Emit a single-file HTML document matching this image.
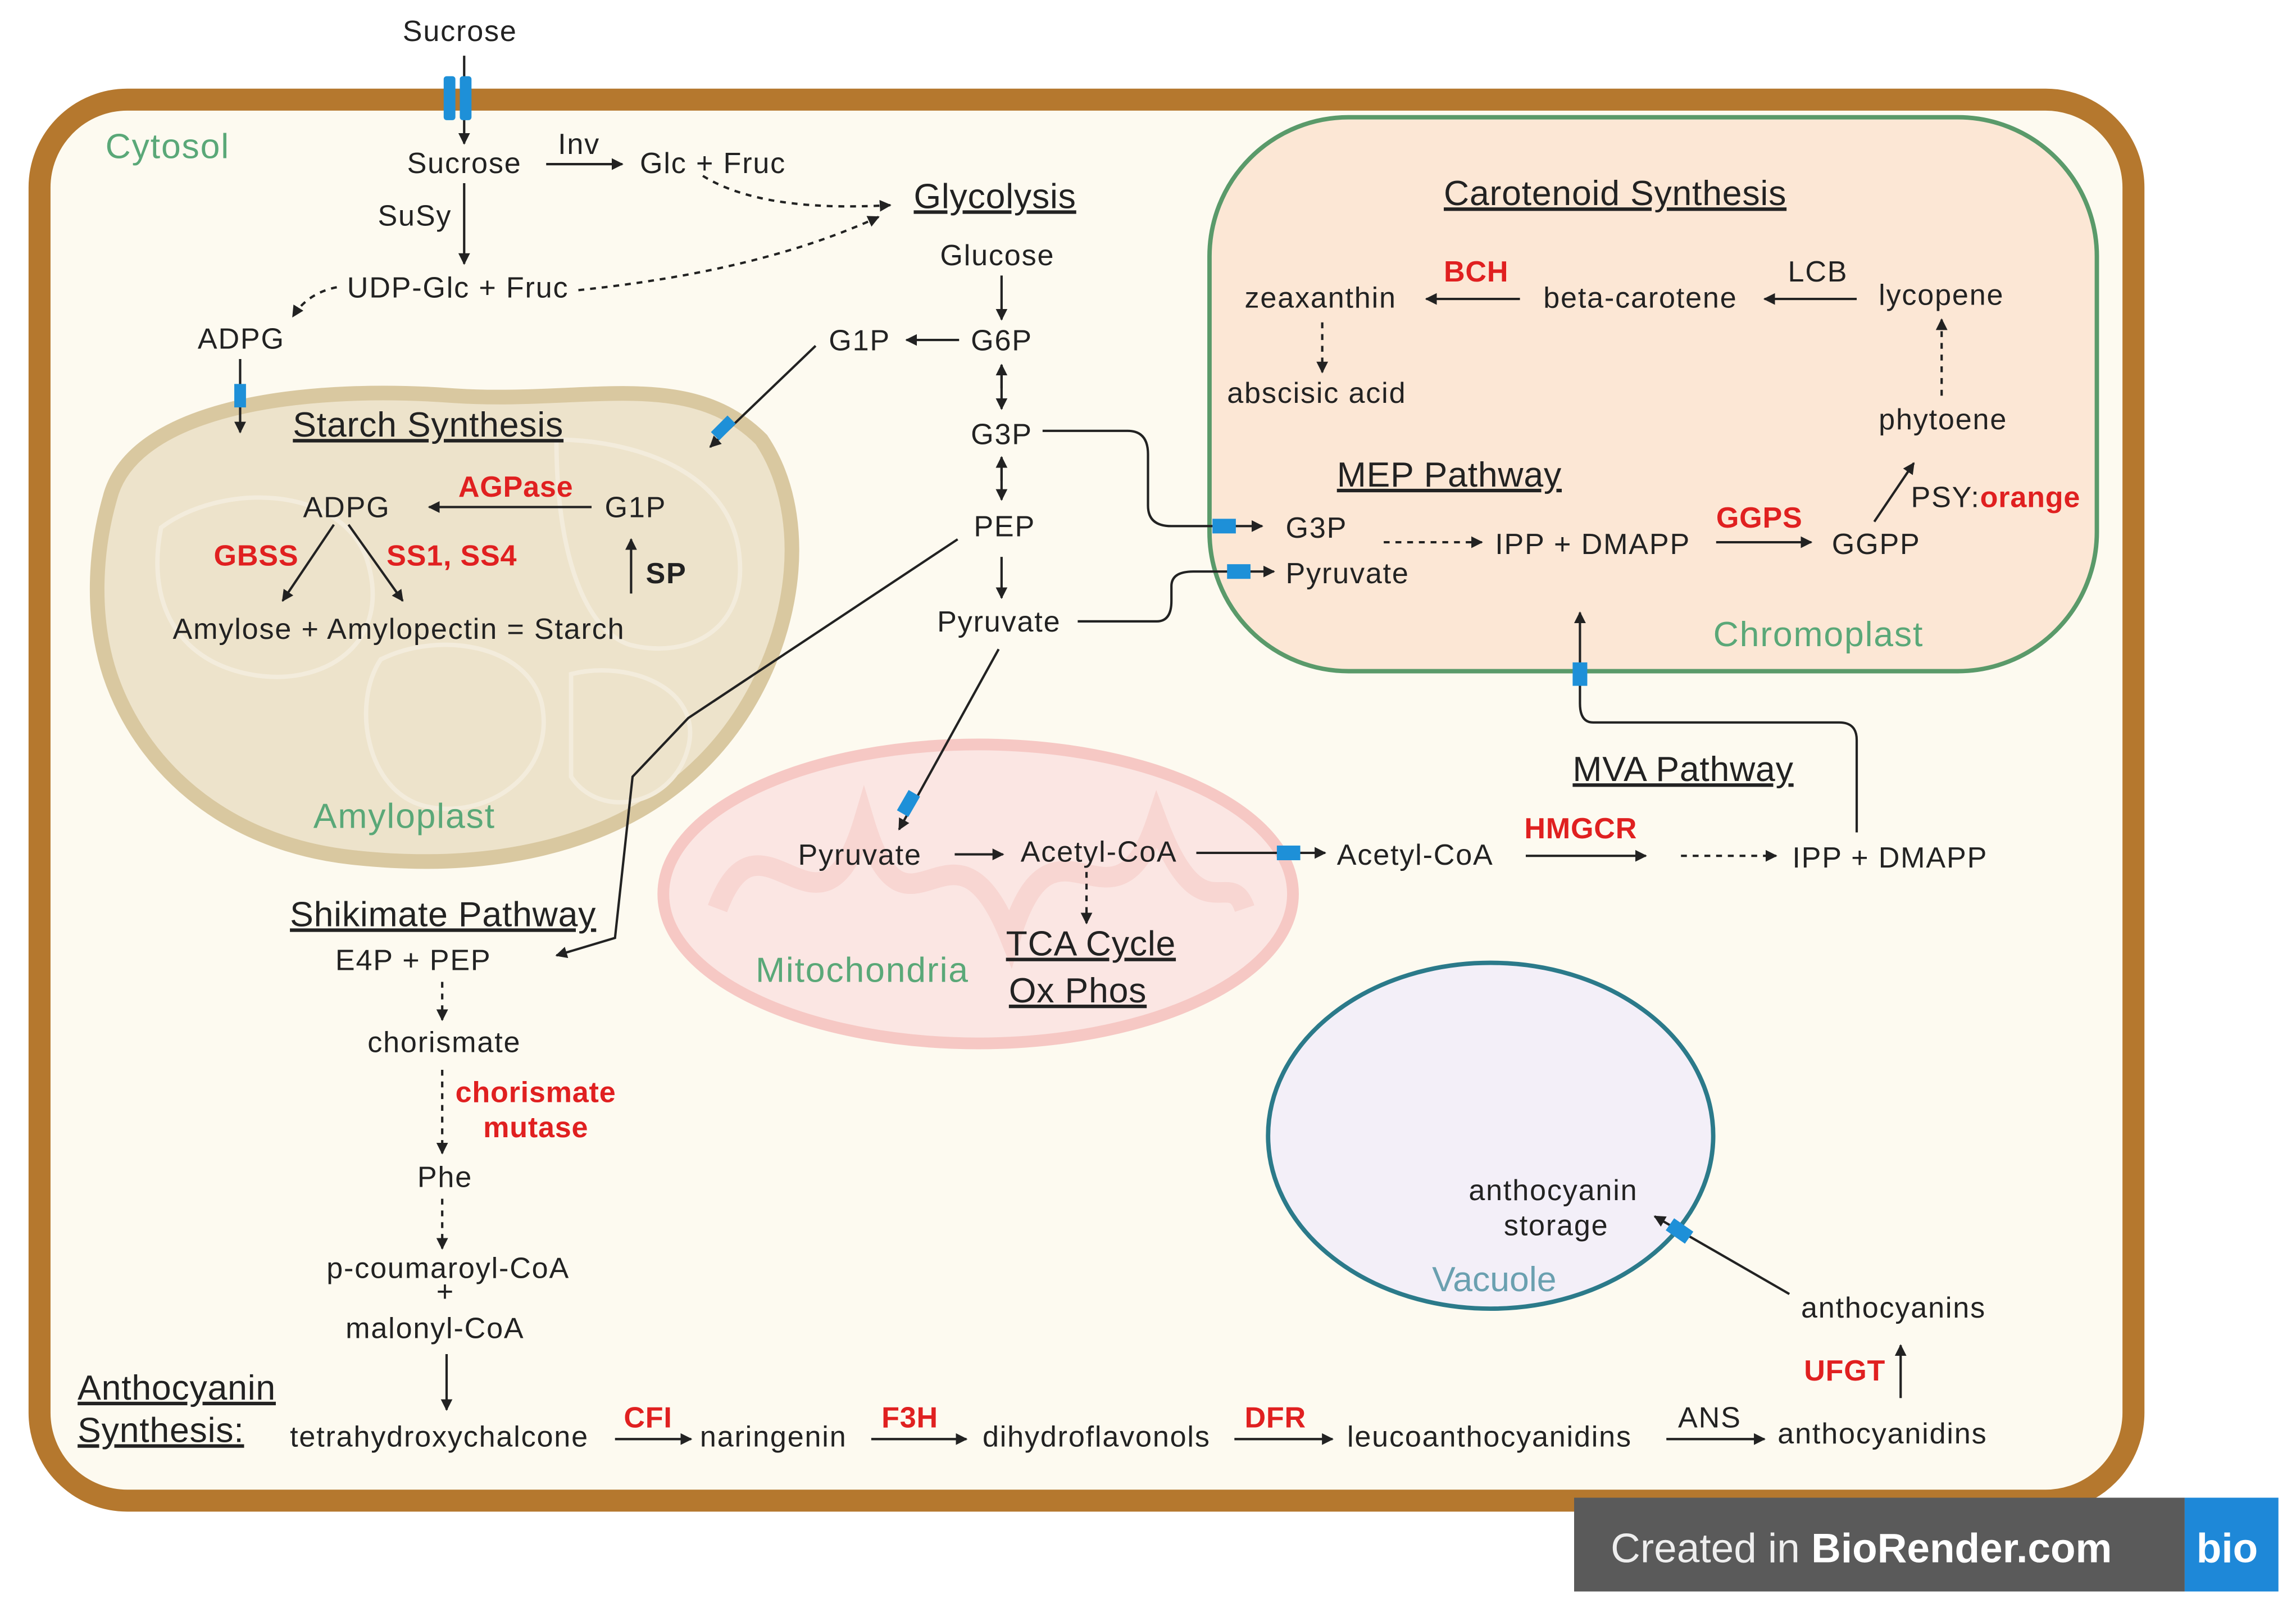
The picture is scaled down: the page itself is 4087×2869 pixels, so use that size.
<!DOCTYPE html>
<html><head><meta charset="utf-8"><style>
html,body{margin:0;padding:0;background:#fff;}
svg{display:block;}
text{font-family:"Liberation Sans",sans-serif;font-size:20px;letter-spacing:0.7px;fill:#222;}
.r{fill:#e02020;font-weight:bold;letter-spacing:0.3px;}
.g{fill:#5aa878;font-size:24px;}
.h{font-size:24px;text-decoration:underline;letter-spacing:0.3px;}
</style></head><body>
<svg width="4087" height="2869" viewBox="0 0 1568 1100" preserveAspectRatio="none" xmlns="http://www.w3.org/2000/svg">
<defs>
<marker id="a" viewBox="0 0 10 10" refX="9" refY="5" markerWidth="5" markerHeight="5" orient="auto"><path d="M0,0L10,5L0,10z" fill="#222"/></marker>
</defs>
<rect x="0" y="0" width="1568" height="1100" fill="#fff"/>
<rect x="27" y="68" width="1430" height="956" rx="60" fill="#fdfaf0" stroke="#b5782e" stroke-width="15"/>
<rect x="1075" y="1022" width="417" height="64" fill="#5a5a5a"/>
<text x="1100" y="1066" style="font-size:28px;fill:#eee;letter-spacing:0">Created in <tspan style="font-weight:bold;fill:#fff">BioRender.com</tspan></text>
<rect x="1492" y="1022" width="64" height="64" fill="#1e88d8"/>
<text x="1500" y="1066" style="font-size:28px;fill:#fff;font-weight:bold;letter-spacing:0">bio</text>
<rect x="826" y="80" width="606" height="378" rx="95" fill="#fce7d5" stroke="#5a9a6a" stroke-width="3"/>
<path d="M75,340 C90,280 200,262 310,270 C400,276 470,250 520,300 C560,360 540,460 480,520 C420,580 330,595 240,585 C150,575 95,520 75,460 C62,420 65,375 75,340Z" fill="#ede3cb" stroke="#d9c8a0" stroke-width="10"/>
<g fill="none" stroke="#f3ecdc" stroke-width="3">
<path d="M110,360 C150,330 230,330 250,380 C270,440 220,470 170,460 C120,450 100,410 110,360Z"/>
<path d="M260,450 C300,430 360,440 370,480 C380,530 330,560 290,550 C250,540 240,480 260,450Z"/>
<path d="M380,300 C430,300 500,320 505,380 C510,430 470,450 430,440 C400,430 380,380 380,300Z"/>
<path d="M390,460 C430,450 480,470 470,510 C460,550 410,560 390,530Z"/>
</g>
<ellipse cx="668" cy="610" rx="215" ry="102" fill="#fbe6e3" stroke="#f6c8c4" stroke-width="8"/>
<path d="M490,620 C520,540 560,660 590,560 C620,660 650,540 690,640 C720,540 760,650 790,560 C820,640 840,590 850,620" fill="none" stroke="#f8d6d2" stroke-width="14"/>
<ellipse cx="1018" cy="775" rx="152" ry="118" fill="#f3eff8" stroke="#2b7a8a" stroke-width="3"/>

<text class="g" x="72" y="108">Cytosol</text>
<text x="275" y="28">Sucrose</text>
<text x="278" y="118">Sucrose</text>
<text x="381" y="105">Inv</text>
<text x="437" y="118">Glc + Fruc</text>
<text x="258" y="154">SuSy</text>
<text x="237" y="203">UDP-Glc + Fruc</text>
<text x="135" y="238">ADPG</text>
<text class="h" x="624" y="142">Glycolysis</text>
<text x="642" y="181">Glucose</text>
<text x="566" y="239">G1P</text>
<text x="663" y="239">G6P</text>
<text x="663" y="303">G3P</text>
<text x="665" y="366">PEP</text>
<text x="640" y="431">Pyruvate</text>
<text class="h" x="200" y="298">Starch Synthesis</text>
<text x="207" y="353">ADPG</text>
<text class="r" x="313" y="339">AGPase</text>
<text x="413" y="353">G1P</text>
<text class="r" x="146" y="386">GBSS</text>
<text class="r" x="264" y="386">SS1, SS4</text>
<text x="441" y="398" style="font-weight:bold">SP</text>
<text x="118" y="436">Amylose + Amylopectin  =  Starch</text>
<text class="g" x="214" y="565">Amyloplast</text>
<text class="h" x="986" y="140">Carotenoid Synthesis</text>
<text x="850" y="210">zeaxanthin</text>
<text class="r" x="986" y="192">BCH</text>
<text x="1054" y="210">beta-carotene</text>
<text x="1221" y="192">LCB</text>
<text x="1283" y="208">lycopene</text>
<text x="838" y="275">abscisic acid</text>
<text x="1283" y="293">phytoene</text>
<text class="h" x="913" y="332">MEP Pathway</text>
<text x="878" y="367">G3P</text>
<text x="1021" y="378">IPP + DMAPP</text>
<text class="r" x="1172" y="360">GGPS</text>
<text x="1251" y="378">GGPP</text>
<text x="1305" y="346">PSY:<tspan class="r">orange</tspan></text>
<text x="878" y="398">Pyruvate</text>
<text class="g" x="1170" y="441">Chromoplast</text>
<text class="h" x="1074" y="533">MVA Pathway</text>
<text x="545" y="590">Pyruvate</text>
<text x="697" y="588">Acetyl-CoA</text>
<text x="913" y="590">Acetyl-CoA</text>
<text class="r" x="1041" y="572">HMGCR</text>
<text x="1224" y="592">IPP + DMAPP</text>
<text class="h" x="687" y="652">TCA Cycle</text>
<text class="h" x="689" y="684">Ox Phos</text>
<text class="g" x="516" y="670">Mitochondria</text>
<text class="h" x="198" y="632">Shikimate Pathway</text>
<text x="229" y="662">E4P  +  PEP</text>
<text x="251" y="718">chorismate</text>
<text class="r" x="311" y="752">chorismate</text>
<text class="r" x="330" y="776">mutase</text>
<text x="285" y="810">Phe</text>
<text x="223" y="872">p-coumaroyl-CoA</text>
<text x="298" y="888">+</text>
<text x="236" y="913">malonyl-CoA</text>
<text class="h" x="53" y="955">Anthocyanin</text>
<text class="h" x="53" y="984">Synthesis:</text>
<text x="198" y="987">tetrahydroxychalcone</text>
<text class="r" x="426" y="974">CFI</text>
<text x="478" y="987">naringenin</text>
<text class="r" x="602" y="974">F3H</text>
<text x="671" y="987">dihydroflavonols</text>
<text class="r" x="850" y="974">DFR</text>
<text x="920" y="987">leucoanthocyanidins</text>
<text x="1146" y="974">ANS</text>
<text x="1214" y="985">anthocyanidins</text>
<text class="r" x="1232" y="942">UFGT</text>
<text x="1230" y="899">anthocyanins</text>
<text x="1003" y="819">anthocyanin</text>
<text x="1027" y="843">storage</text>
<text x="978" y="881" style="font-size:24px;fill:#6aa0b0;letter-spacing:0">Vacuole</text>

<g stroke="#222" stroke-width="1.6" fill="none" marker-end="url(#a)">
<line x1="317" y1="38" x2="317" y2="98"/>
<line x1="373" y1="112" x2="425" y2="112"/>
<line x1="317" y1="125" x2="317" y2="180"/>
<line x1="684" y1="188" x2="684" y2="218"/>
<line x1="655" y1="232" x2="619" y2="232"/>
<line x1="557" y1="236" x2="485" y2="305"/>
<line x1="684" y1="265" x2="684" y2="249"/><line x1="684" y1="249" x2="684" y2="279"/>
<line x1="684" y1="328" x2="684" y2="312"/><line x1="684" y1="312" x2="684" y2="341"/>
<line x1="684" y1="380" x2="684" y2="408"/>
<line x1="164" y1="245" x2="164" y2="295"/>
<line x1="404" y1="346" x2="293" y2="346"/>
<line x1="228" y1="358" x2="193" y2="410"/>
<line x1="238" y1="358" x2="275" y2="410"/>
<line x1="431" y1="405" x2="431" y2="368"/>
<line x1="1038" y1="204" x2="974" y2="204"/>
<line x1="1268" y1="204" x2="1205" y2="204"/>
<line x1="1172" y1="370" x2="1237" y2="370"/>
<line x1="1280" y1="356" x2="1307" y2="316"/>
<path d="M712,294 L770,294 Q784,294 784,310 L784,345 Q784,359 800,359 L862,359"/>
<path d="M736,424 L790,424 Q800,424 800,410 L800,400 Q800,390 815,390 L870,390"/>
<path d="M654,368 L470,490 L432,530 L420,640 L380,652"/>
<line x1="682" y1="443" x2="614" y2="566"/>
<line x1="652" y1="583" x2="685" y2="583"/>
<line x1="817" y1="582" x2="905" y2="582"/>
<line x1="1042" y1="584" x2="1124" y2="584"/>
<path d="M1268,568 L1268,505 Q1268,493 1256,493 L1088,493 Q1079,493 1079,480 L1079,418"/>
<line x1="305" y1="924" x2="305" y2="962"/>
<line x1="420" y1="982" x2="472" y2="982"/>
<line x1="595" y1="982" x2="660" y2="982"/>
<line x1="843" y1="982" x2="910" y2="982"/>
<line x1="1138" y1="982" x2="1205" y2="982"/>
<line x1="1298" y1="954" x2="1298" y2="918"/>
<line x1="1222" y1="883" x2="1130" y2="830"/>
</g>
<g stroke="#222" stroke-width="1.6" fill="none" stroke-dasharray="4,4" marker-end="url(#a)">
<path d="M480,120 Q520,145 608,140"/>
<path d="M395,198 Q520,185 600,148"/>
<path d="M230,196 Q210,200 200,216"/>
<line x1="903" y1="220" x2="903" y2="254"/>
<line x1="1326" y1="270" x2="1326" y2="218"/>
<line x1="945" y1="370" x2="1012" y2="370"/>
<line x1="742" y1="595" x2="742" y2="630"/>
<line x1="1148" y1="584" x2="1213" y2="584"/>
<line x1="302" y1="670" x2="302" y2="696"/>
<line x1="302" y1="730" x2="302" y2="787"/>
<line x1="302" y1="818" x2="302" y2="852"/>
</g>
<g fill="#1e90d8">
<rect x="303" y="52" width="8" height="30" rx="2"/><rect x="314" y="52" width="8" height="30" rx="2"/>
<rect x="160" y="262" width="8" height="16"/>
<rect x="490" y="284" width="8" height="16" transform="rotate(45 494 292)"/>
<rect x="828" y="354" width="16" height="10"/>
<rect x="838" y="385" width="16" height="10"/>
<rect x="616" y="540" width="9" height="16" transform="rotate(30 620 548)"/>
<rect x="872" y="577" width="16" height="10"/>
<rect x="1074" y="452" width="10" height="16"/>
<rect x="1142" y="832" width="10" height="16" transform="rotate(-55 1147 840)"/>
</g>
</svg>
</body></html>
